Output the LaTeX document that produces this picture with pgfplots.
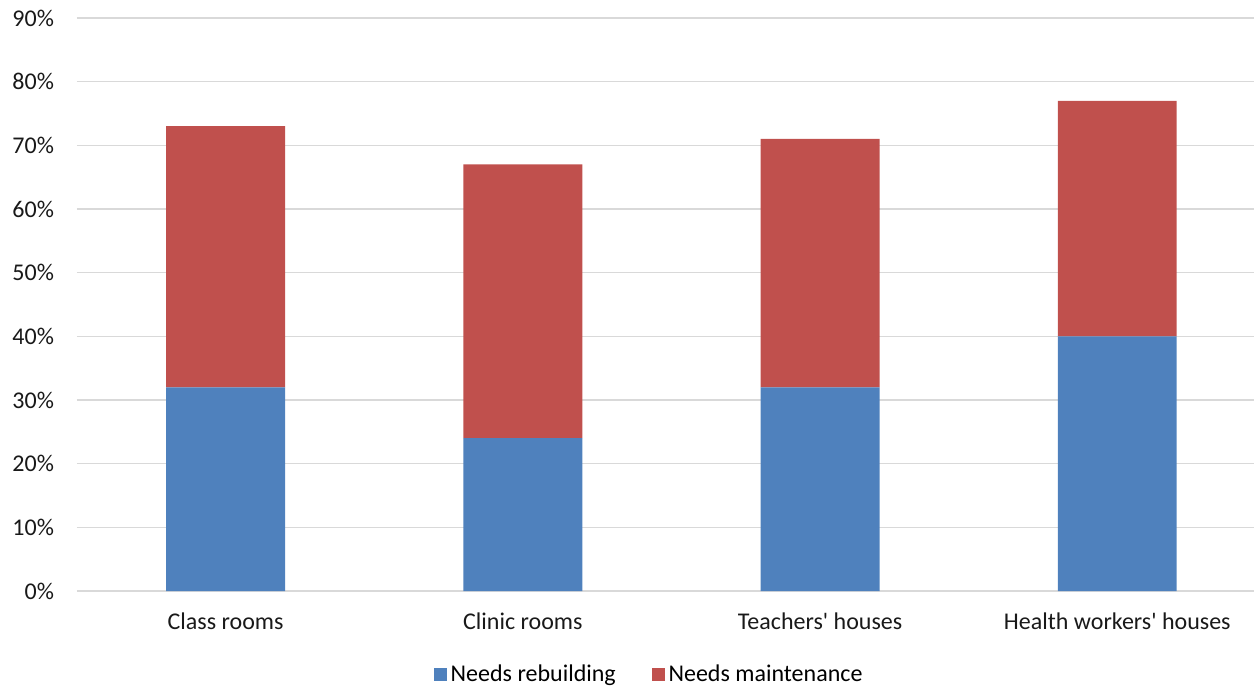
\documentclass[border=0pt]{standalone}
\usepackage{pgfplots}
\pgfplotsset{compat=1.18}
\usepackage{fontspec}
\setmainfont{Carlito}

\definecolor{rebuild}{HTML}{4F81BD}
\definecolor{maint}{HTML}{C0504D}
\definecolor{gridgray}{HTML}{D9D9D9}

\begin{document}
\begin{tikzpicture}
\path[use as bounding box] (-38.5pt,-48pt) rectangle (588.5pt,295.5pt);
\begin{axis}[
  at={(0,0)}, anchor=south west,
  scale only axis,
  width=588.5pt, height=286.5pt,
  ybar stacked,
  bar width=0.4,
  xmin=-0.5, xmax=3.46,
  ymin=0, ymax=90,
  ytick={0,10,...,90},
  yticklabel={\pgfmathprintnumber{\tick}\%},
  xtick={0,1,2,3},
  xticklabels={Class rooms, Clinic rooms, Teachers\textquotesingle{} houses, Health workers\textquotesingle{} houses},
  axis line style={draw=none},
  major tick length=0pt,
  ymajorgrids,
  grid style={draw=gridgray, line width=0.6pt},
  /pgf/number format/assume math mode=true,
  tick label style={font=\fontsize{12}{14}\selectfont, text=black!90},
  yticklabel style={xshift=-8pt},
  xticklabel style={yshift=-7.5pt},
  legend style={at={(0.487,-0.146)}, anchor=center, draw=none,
    font=\fontsize{12}{14}\selectfont, legend columns=2,
    /tikz/every even column/.append style={column sep=16pt}},
  legend image code/.code={\fill[#1] (0pt,-3.2pt) rectangle (6.4pt,3.2pt);},
]
% Needs rebuilding
\addplot[fill=rebuild, draw=none] coordinates {(0,32) (1,24) (2,32) (3,40)};
\addlegendentry{Needs rebuilding}
% Needs maintenance
\addplot[fill=maint, draw=none] coordinates {(0,41) (1,43) (2,39) (3,37)};
\addlegendentry{Needs maintenance}
\end{axis}
\end{tikzpicture}
\end{document}
